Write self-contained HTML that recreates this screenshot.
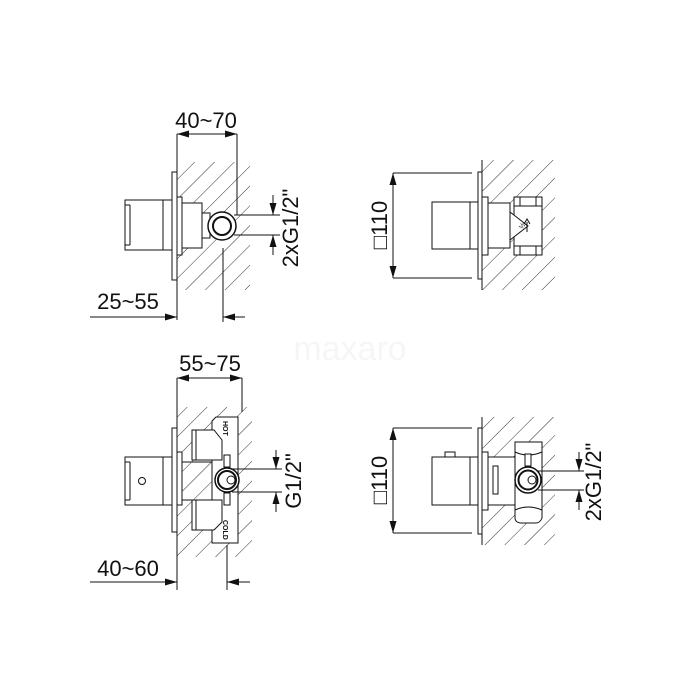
<!DOCTYPE html>
<html><head><meta charset="utf-8"><style>
html,body{margin:0;padding:0;background:#fff;}
svg{display:block;}
text{font-family:"Liberation Sans",sans-serif;fill:#111;}
</style></head><body>
<svg width="700" height="700" viewBox="0 0 700 700" xmlns="http://www.w3.org/2000/svg">
<defs>
<pattern id="h" width="14" height="14" patternUnits="userSpaceOnUse" patternTransform="rotate(45)">
<line x1="0" y1="0" x2="0" y2="14" stroke="#333" stroke-width="1"/>
</pattern>
<marker id="a" viewBox="0 0 12 7" refX="12" refY="3.5" markerWidth="12" markerHeight="7" orient="auto" markerUnits="userSpaceOnUse">
<path d="M0,0 L12,3.5 L0,7 z" fill="#111"/>
</marker>
</defs>
<text x="350" y="360" font-size="34" text-anchor="middle" style="fill:#f6f6f6">maxaro</text>
<g stroke="#111" stroke-width="1" fill="none">
<!-- Q1 -->
<rect x="177" y="162" width="73" height="128" fill="url(#h)" stroke="none"/>
<line x1="177" y1="134" x2="177" y2="320"/>
<rect x="172" y="172" width="5" height="108" fill="#fff"/>
<rect x="177" y="197" width="5" height="58" fill="#fff"/>
<rect x="182" y="203" width="20" height="45" fill="#fff"/>
<rect x="202" y="213" width="8" height="25" fill="#fff"/>
<rect x="125" y="200" width="38" height="50" fill="#fff"/>
<rect x="163" y="200" width="9" height="50" fill="#fff"/>
<line x1="130" y1="205" x2="130" y2="245"/>
<line x1="125" y1="205" x2="130" y2="205"/><line x1="125" y1="245" x2="130" y2="245"/>
<circle cx="222" cy="226" r="14" fill="#fff" stroke-width="1.5"/>
<circle cx="222" cy="226" r="9" stroke-width="2"/>
<line x1="237" y1="134" x2="237" y2="215"/>
<line x1="207" y1="134" x2="177" y2="134" marker-end="url(#a)"/>
<line x1="207" y1="134" x2="237" y2="134" marker-end="url(#a)"/>
<line x1="234" y1="215" x2="280" y2="215"/>
<line x1="234" y1="235" x2="280" y2="235"/>
<line x1="273" y1="195" x2="273" y2="215" marker-end="url(#a)"/>
<line x1="273" y1="255" x2="273" y2="235" marker-end="url(#a)"/>
<line x1="223" y1="248" x2="223" y2="322"/>
<line x1="90" y1="317" x2="177" y2="317" marker-end="url(#a)"/>
<line x1="245" y1="317" x2="223" y2="317" marker-end="url(#a)"/>

<!-- Q2 -->
<rect x="177" y="407" width="75" height="150" fill="url(#h)" stroke="none"/>
<line x1="177" y1="378" x2="177" y2="590"/>
<line x1="242" y1="378" x2="242" y2="412"/>
<line x1="210" y1="378" x2="177" y2="378" marker-end="url(#a)"/>
<line x1="210" y1="378" x2="242" y2="378" marker-end="url(#a)"/>
<rect x="172" y="428" width="5" height="104" fill="#fff"/>
<rect x="177" y="452" width="5" height="53" fill="#fff"/>
<rect x="125" y="457" width="38" height="48" fill="#fff"/>
<rect x="163" y="457" width="9" height="48" fill="#fff"/>
<line x1="130" y1="462" x2="130" y2="500"/>
<line x1="125" y1="462" x2="130" y2="462"/><line x1="125" y1="500" x2="130" y2="500"/>
<circle cx="142" cy="481" r="3.5"/>
<path d="M216,417 L238,417 L238,543 L212,543 L212,421 Z" fill="#fff"/>
<path d="M192,430 L214,430 L222,440 L222,460 L192,460 Z" fill="#fff"/>
<path d="M192,500 L222,500 L222,522 L214,530 L192,530 Z" fill="#fff"/>
<line x1="196" y1="430" x2="196" y2="460"/><line x1="196" y1="500" x2="196" y2="530"/>
<line x1="182" y1="462" x2="212" y2="462"/><line x1="182" y1="500" x2="192" y2="500"/>
<rect x="224" y="455" width="6" height="12" fill="#fff"/>
<rect x="224" y="493" width="6" height="12" fill="#fff"/>
<circle cx="227" cy="480" r="12" fill="#fff" stroke-width="1.5"/>
<circle cx="227" cy="480" r="9" stroke-width="2"/>
<circle cx="231" cy="480" r="4"/>
<line x1="232" y1="469" x2="282" y2="469"/>
<line x1="232" y1="492" x2="282" y2="492"/>
<line x1="276" y1="450" x2="276" y2="469" marker-end="url(#a)"/>
<line x1="276" y1="512" x2="276" y2="492" marker-end="url(#a)"/>
<line x1="227" y1="545" x2="227" y2="590"/>
<line x1="90" y1="582" x2="177" y2="582" marker-end="url(#a)"/>
<line x1="250" y1="582" x2="227" y2="582" marker-end="url(#a)"/>

<!-- Q3 -->
<rect x="482" y="160" width="73" height="130" fill="url(#h)" stroke="none"/>
<line x1="482" y1="160" x2="482" y2="290"/>
<line x1="393" y1="173" x2="472" y2="173"/><line x1="393" y1="278" x2="472" y2="278"/>
<line x1="393" y1="225" x2="393" y2="173" marker-end="url(#a)"/>
<line x1="393" y1="225" x2="393" y2="278" marker-end="url(#a)"/>
<rect x="478" y="172" width="4" height="107" fill="#fff"/>
<rect x="482" y="197" width="6" height="58" fill="#fff"/>
<rect x="488" y="203" width="22" height="45" fill="#fff"/>
<rect x="432" y="202" width="38" height="47" fill="#fff"/>
<rect x="470" y="202" width="8" height="47" fill="#fff"/>
<rect x="514" y="203" width="28" height="45" fill="#fff"/>
<rect x="514" y="197" width="28" height="9" fill="#fff"/>
<rect x="514" y="246" width="28" height="9" fill="#fff"/>
<line x1="520" y1="197" x2="520" y2="206"/><line x1="536" y1="197" x2="536" y2="206"/>
<line x1="520" y1="246" x2="520" y2="255"/><line x1="536" y1="246" x2="536" y2="255"/>
<path d="M510,212 L528,226 L510,240 Z" fill="#fff"/>
<text x="520" y="231" font-size="7" stroke="none" transform="rotate(-60 520 228)">½</text>
<path d="M527,232 L527,222 M524,224 L527,219 L530,224" />

<!-- Q4 -->
<rect x="482" y="417" width="73" height="128" fill="url(#h)" stroke="none"/>
<line x1="482" y1="417" x2="482" y2="545"/>
<line x1="393" y1="428" x2="472" y2="428"/><line x1="393" y1="533" x2="472" y2="533"/>
<line x1="393" y1="480" x2="393" y2="428" marker-end="url(#a)"/>
<line x1="393" y1="480" x2="393" y2="533" marker-end="url(#a)"/>
<rect x="478" y="428" width="4" height="106" fill="#fff"/>
<rect x="482" y="452" width="6" height="58" fill="#fff"/>
<rect x="488" y="457" width="27" height="48" fill="#fff"/>
<rect x="493" y="466" width="5" height="28" fill="#fff"/>
<rect x="432" y="457" width="38" height="48" fill="#fff"/>
<rect x="470" y="457" width="8" height="48" fill="#fff"/>
<rect x="445" y="452" width="10" height="5" fill="#fff"/>
<path d="M515,442 L542,442 L542,518 Q540,523 536,523 L520,523 Q515,522 515,518 Z" fill="#fff"/>
<path d="M515,452 Q528,458 542,452"/><path d="M515,510 Q528,504 542,510"/>
<rect x="525" y="454" width="6" height="12" fill="#fff"/>
<circle cx="528" cy="480" r="13" fill="#fff" stroke-width="1.5"/>
<circle cx="528" cy="480" r="9.5" stroke-width="2"/>
<circle cx="532" cy="480" r="4"/>
<line x1="538" y1="471" x2="584" y2="471"/>
<line x1="538" y1="490" x2="584" y2="490"/>
<line x1="579" y1="452" x2="579" y2="471" marker-end="url(#a)"/>
<line x1="579" y1="510" x2="579" y2="490" marker-end="url(#a)"/>
</g>
<g font-size="22">
<text x="206" y="128" text-anchor="middle">40~70</text>
<text x="128" y="309" text-anchor="middle">25~55</text>
<text x="210" y="371" text-anchor="middle">55~75</text>
<text x="128" y="576" text-anchor="middle">40~60</text>
<text transform="translate(298,228) rotate(-90)" text-anchor="middle">2xG1/2"</text>
<text transform="translate(301,481) rotate(-90)" text-anchor="middle">G1/2"</text>
<text transform="translate(601,482) rotate(-90)" text-anchor="middle">2xG1/2"</text>
<text transform="translate(387,225) rotate(-90)" text-anchor="middle">□110</text>
<text transform="translate(387,480) rotate(-90)" text-anchor="middle">□110</text>
</g>
<g font-size="7" font-weight="bold">
<text transform="translate(223,421) rotate(90)">HOT</text>
<text transform="translate(223,520) rotate(90)">COLD</text>
</g>
</svg>
</body></html>
